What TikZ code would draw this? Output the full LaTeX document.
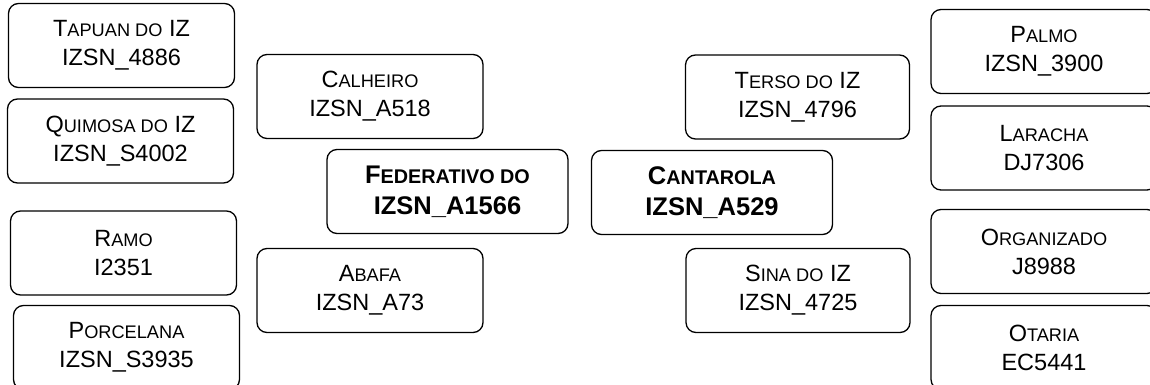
\documentclass[tikz,border=0pt]{standalone}
\usepackage{fontspec}
\setmainfont{Liberation Sans}
\usepackage{tikz}

\newcommand{\smc}[1]{{\fontsize{9.1pt}{14.5pt}\selectfont #1}}
\newcommand{\smcb}[1]{{\fontsize{9.9pt}{15.5pt}\selectfont #1}}

\tikzset{
	card/.style={draw, line width=0.65pt, rounded corners=5pt, inner sep=0pt,
		minimum width=113pt, minimum height=42pt, align=center,
		font=\fontsize{11.75pt}{14.5pt}\selectfont},
	maincard/.style={card, minimum width=120.5pt,
		font=\fontsize{12.75pt}{15.5pt}\selectfont\bfseries}
}

\begin{document}
\begin{tikzpicture}[x=0.5pt, y=-0.5pt]
	\useasboundingbox (0,0) rectangle (1150,385);
	% left column
	\node [card] (tapuan) at (121.5,45.5) {T\smc{APUAN DO} IZ\\IZSN\_4886};
	\node [card] (quimosa) at (120.5,141) {Q\smc{UIMOSA DO} IZ\\IZSN\_S4002};
	\node [card] (ramo) at (123.5,253) {R\smc{AMO}\\I2351};
	\node [card] (porcelana) at (126.5,347.5) {P\smc{ORCELANA}\\IZSN\_S3935};
	% left middle
	\node [card] (calheiro) at (370,96.5) {C\smc{ALHEIRO}\\IZSN\_A518};
	\node [maincard] (federativo) at (447.5,191.5) {F\smcb{EDERATIVO DO}\\IZSN\_A1566};
	\node [card] (abafa) at (370,290.5) {A\smc{BAFA}\\IZSN\_A73};
	% right middle
	\node [card, minimum width=112pt] (terso) at (797.5,97) {T\smc{ERSO DO} IZ\\IZSN\_4796};
	\node [maincard] (cantarola) at (712,192.5) {C\smcb{ANTAROLA}\\IZSN\_A529};
	\node [card, minimum width=112pt] (sina) at (798,290.5) {S\smc{INA DO} IZ\\IZSN\_4725};
	% right column
	\node [card] (palmo) at (1044,51.5) {P\smc{ALMO}\\IZSN\_3900};
	\node [card] (laracha) at (1044,148) {L\smc{ARACHA}\\DJ7306};
	\node [card] (organizado) at (1044,251.5) {O\smc{RGANIZADO}\\J8988};
	\node [card] (otaria) at (1044,347.5) {O\smc{TARIA}\\EC5441};
\end{tikzpicture}
\end{document}
